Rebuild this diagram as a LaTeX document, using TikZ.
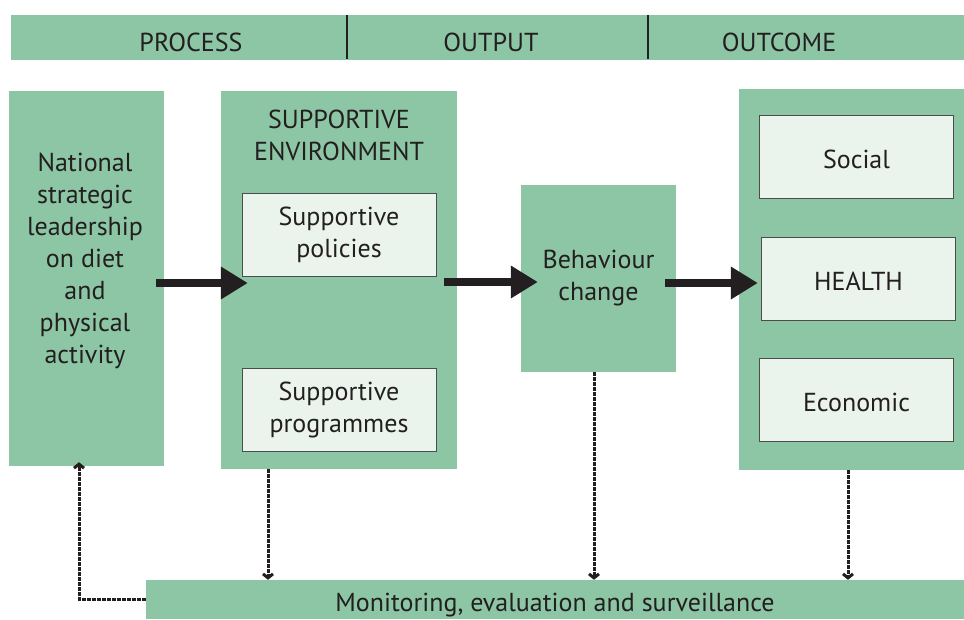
\documentclass[tikz,border=0pt]{standalone}
\usepackage{fontspec}
\setmainfont{PT Sans}
\usetikzlibrary{arrows.meta,positioning,calc}
\definecolor{panel}{RGB}{141,198,164}
\definecolor{inner}{RGB}{234,243,236}
\definecolor{ink}{RGB}{35,31,32}

\begin{document}
\begin{tikzpicture}[x=1pt, y=-1pt, font=\fontsize{26}{32}\selectfont, text=ink,
  panel/.style={fill=panel, inner sep=0pt, align=center},
  sub/.style={draw=black!70, line width=0.8pt, fill=inner, align=center, inner sep=0pt,
    minimum width=194pt, minimum height=83pt},
  oneline/.style={text height=24pt, text depth=0pt},
  bigarrow/.style={draw=ink, line width=8pt, -{Triangle[length=27pt,width=31pt]}},
  feed/.style={draw=ink, line width=3pt, dash pattern=on 4pt off 1pt,
    -{Straight Barb[length=4pt,width=10pt]}}]
\useasboundingbox (0,0) rectangle (964,619);
% header bar
\node[panel, minimum width=953pt, minimum height=45pt] (bar) at (487.5,37.5) {};
\node (hproc) at (191,42) {PROCESS};
\node (hout)  at (491,42) {OUTPUT};
\node (hoc)   at (779,42) {OUTCOME};
\draw[ink, line width=2pt] (347,15) -- (347,59);
\draw[ink, line width=2pt] (648,15) -- (648,59);
% main panels
\node[panel, minimum width=155pt, minimum height=375pt] (lead) at (86.5,278.5) {};
\node[align=center] (leadtxt) at (85,261) {National\\strategic\\leadership\\on diet\\and\\physical\\activity};
\node[panel, minimum width=236pt, minimum height=378pt] (env) at (339,280) {};
\node[align=center] (envtxt) at (339,135) {SUPPORTIVE\\ENVIRONMENT};
\node[sub] (pol)  at (339,234.5) {Supportive\\policies};
\node[sub] (prog) at (339,410) {Supportive\\programmes};
\node[panel, minimum width=155pt, minimum height=187pt] (beh) at (598.5,278.5) {Behaviour\\change};
\node[panel, minimum width=225pt, minimum height=381pt] (outc) at (851.5,279.5) {};
\node[sub, oneline] (soc)  at (856.5,156.5) {Social};
\node[sub, oneline] (hlth) at (858.5,278.5) {HEALTH};
\node[sub, oneline] (econ) at (856.5,399.5) {Economic};
\node[panel, oneline, minimum width=818pt, minimum height=39pt] (mon) at (555,599.5) {Monitoring, evaluation and surveillance};
% flow
\draw[bigarrow] ([xshift=-8pt,yshift=-4.5pt]lead.east) -- ([xshift=27pt,yshift=-3pt]env.west);
\draw[bigarrow] ([xshift=-13pt,yshift=-2pt]env.east) -- ([xshift=17pt,yshift=-3.5pt]beh.west);
\draw[bigarrow] ([xshift=-11pt,yshift=-4.5pt]beh.east) -- ([xshift=19pt,yshift=-3.5pt]outc.west);
% monitoring links
\draw[feed] ([xshift=-71pt]env.south) -- ([xshift=-71pt]env.south |- mon.north);
\draw[feed] ([xshift=-4.5pt]beh.south) -- ([xshift=-4.5pt]beh.south |- mon.north);
\draw[feed] ([xshift=-3.5pt]outc.south) -- ([xshift=-3.5pt]outc.south |- mon.north);
\draw[feed] (mon.west) -| ([xshift=-7.5pt,yshift=4pt]lead.south);
\end{tikzpicture}
\end{document}
